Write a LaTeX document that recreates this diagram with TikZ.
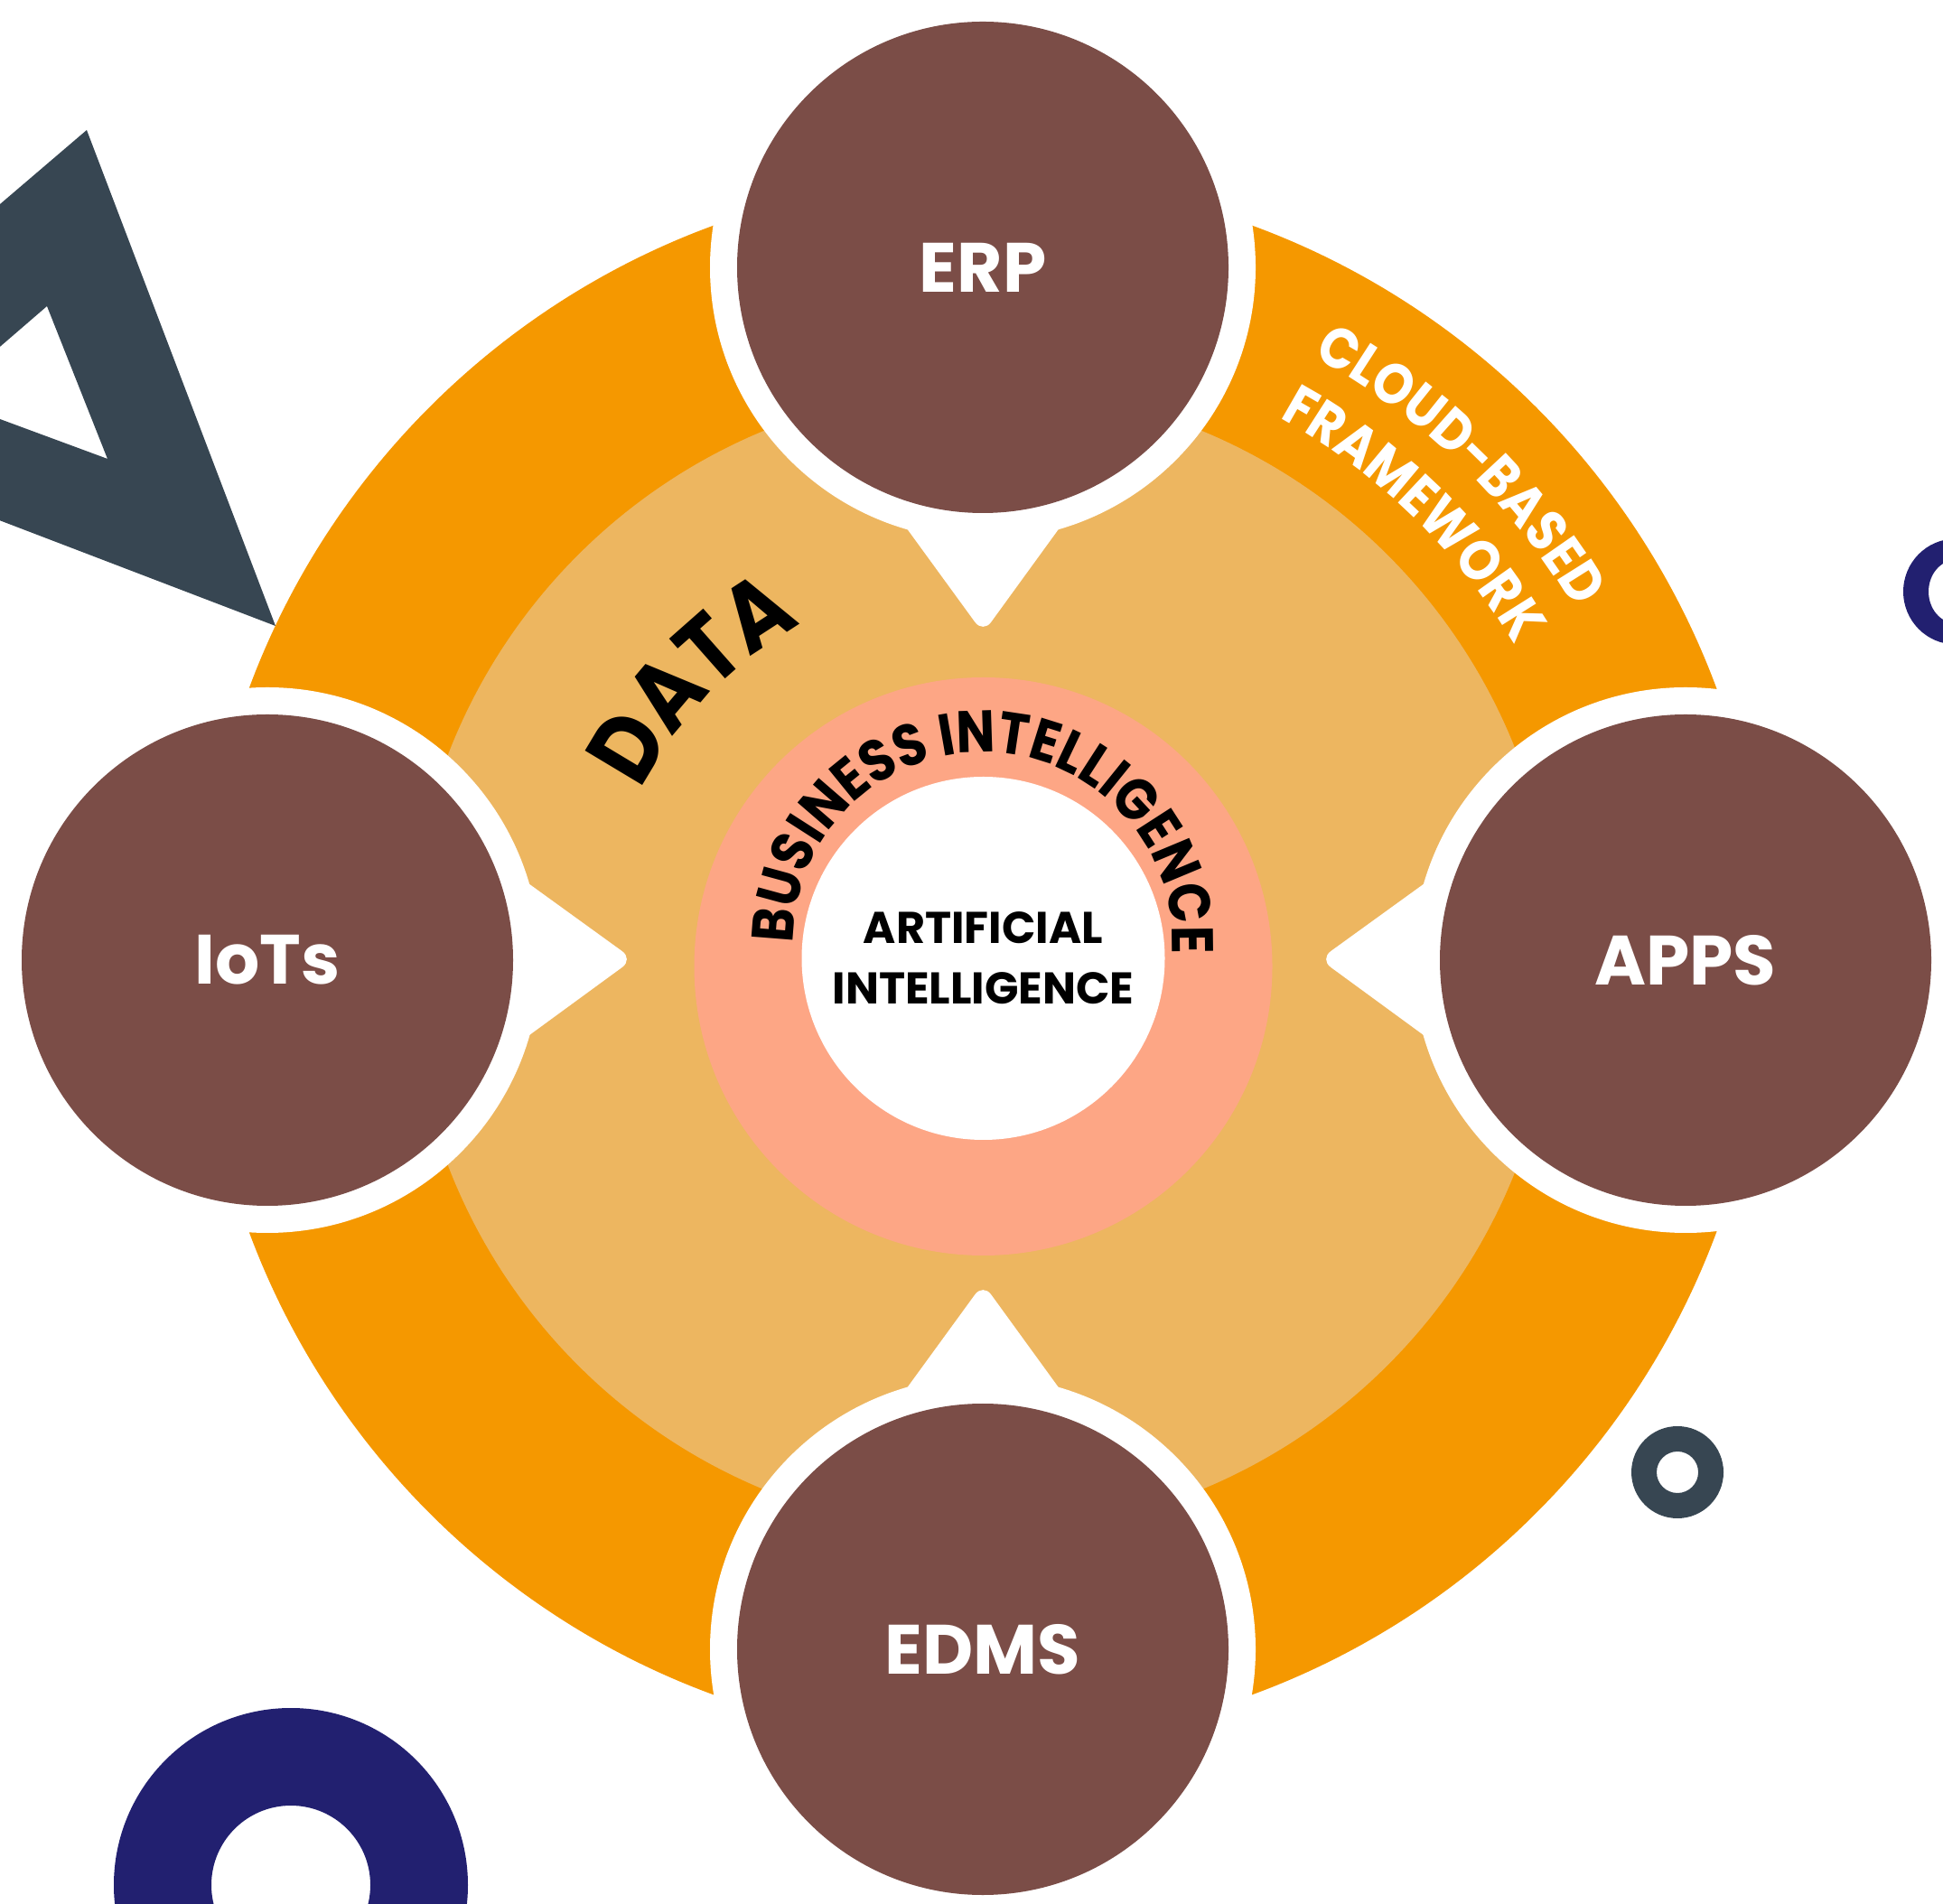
\documentclass[tikz,border=0pt]{standalone}
\usepackage{fontspec}
\setmainfont{Poppins}
\newfontfamily\arcfont[FakeStretch=0.88]{Poppins}
\usepackage{tikz}
\usetikzlibrary{calc}
\usetikzlibrary{decorations.text}

\definecolor{ringorange}{HTML}{F59800}
\definecolor{dataorange}{HTML}{EDB660}
\definecolor{bisalmon}{HTML}{FDA685}
\definecolor{hubbrown}{HTML}{7B4D47}
\definecolor{slate}{HTML}{374652}
\definecolor{navy}{HTML}{222070}

\begin{document}
\begin{tikzpicture}[hub/.style={circle, fill=hubbrown, minimum size=5.44cm, inner sep=0pt, text=white, font=\bfseries\fontsize{22}{22}\selectfont},
        core/.style={circle, fill=white, minimum size=4.02cm, inner sep=0pt, align=center, font=\bfseries\fontsize{14}{19}\selectfont},
        arctext/.style={decorate, decoration={text along path, text align=center, text color=#1}}]
        \useasboundingbox (0,0) rectangle (21.51,21.07);
        \begin{scope}
            \clip (0,0) rectangle (21.51,21.07);
            \fill[slate, even odd rule] (0.96,19.63) -- (-2.83,16.39) -- (3.05,14.14) -- cycle
                (0.52,17.68) -- (-0.65,16.67) -- (1.19,15.99) -- cycle;
            \fill[navy, even odd rule] (3.22,0.20) circle (1.96) (3.22,0.20) circle (0.88);
            \fill[slate, even odd rule] (18.57,4.77) circle (0.51) (18.57,4.77) circle (0.23);
            \fill[navy, even odd rule] (21.65,14.52) ellipse (0.58 and 0.585) (21.65,14.52) ellipse (0.30 and 0.35);
        \end{scope}

        \coordinate (O) at (10.88,10.44);
        \fill[ringorange] (O) circle (8.66);
        \fill[dataorange] (O) circle (6.34);
        \fill[bisalmon] (10.885,10.37) circle (3.20);
        \node[core] (ai) at (10.885,10.46) {ARTIFICIAL\\INTELLIGENCE};

        \foreach \name/\x/\y/\txt in {erp/10.88/18.11/ERP, iots/2.96/10.44/IoTs, apps/18.66/10.44/APPS, edms/10.88/2.81/EDMS}
        {
            \coordinate (\name-at) at (\x,\y);
            \fill[white] (\name-at) circle (3.02);
            \fill[white, rounded corners=1.5mm] ($(\name-at)!2.683cm!26.57:(ai)$) -- ($(\name-at)!4.05cm!(ai)$) -- ($(\name-at)!2.683cm!-26.57:(ai)$) -- cycle;
            \node[hub] (\name) at (\name-at) {\txt};
        }

        \path[arctext=black, decoration={text={|\arcfont\bfseries\fontsize{30}{30}\selectfont|DATA}}]
            ($(O)+(156:4.22)$) arc[start angle=156, end angle=116, radius=4.22];
        \path[arctext=black, decoration={text={|\arcfont\bfseries\fontsize{18.5}{18.5}\selectfont|BUSINESS INTELLIGENCE}}]
            ($(10.88,10.64)+(178:2.10)$) arc[start angle=178, end angle=-1, radius=2.10];
        \path[arctext=white, decoration={text={|\arcfont\bfseries\fontsize{18}{18}\selectfont|CLOUD-BASED}}]
            ($(O)+(72:7.62)$) arc[start angle=72, end angle=20, radius=7.62];
        \path[arctext=white, decoration={text={|\arcfont\bfseries\fontsize{18}{18}\selectfont|FRAMEWORK}}]
            ($(O)+(72:6.84)$) arc[start angle=72, end angle=20, radius=6.84];
    \end{tikzpicture}
\end{document}
